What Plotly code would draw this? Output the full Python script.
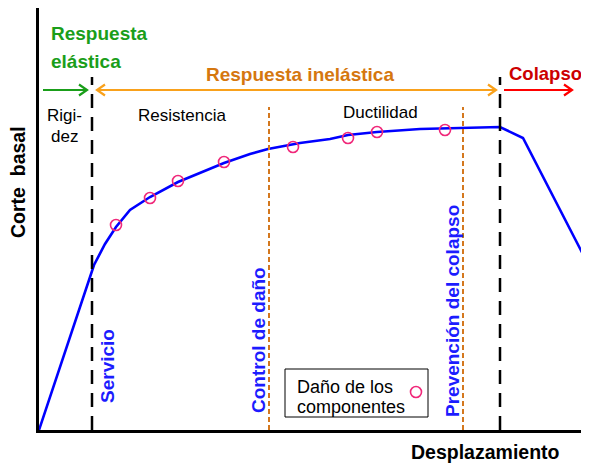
import plotly.graph_objects as go

# ---- data (arbitrary units: displacement, base shear) ----
desplazamiento = [0, 55, 66, 77, 91, 111, 139, 161, 185, 211, 229, 261, 291, 309, 338, 381, 406, 461, 484, 550]
corte_basal = [0, 165, 186, 203, 220, 233, 248, 257, 267, 276, 281, 287, 291, 295, 298, 301, 301.5, 303, 292, 164]

dano_x = [77, 111, 139, 185, 254, 309, 338, 406]
dano_y = [205, 232, 249, 268, 283, 292, 298, 300]

limites_x = [53, 230, 424, 461]          # Servicio, Control de daño, Prevención, límite colapso
limites_tipo = ["black", "orange", "orange", "black"]

X_RANGE = [0, 550]
Y_RANGE = [0, 422]

FONT = "Liberation Sans, Arial, sans-serif"
BLUE = "#0000ff"
TXT_BLUE = "#1c1cff"
GREEN = "#1a9e1a"
ORANGE_TXT = "#d5770f"
ORANGE_ARROW = "#f9a11b"
ORANGE_DASH = "#d4781e"
RED_ARROW = "#ff0000"
RED_TXT = "#cc0000"
PINK = "#f0287a"

fig = go.Figure()

fig.add_trace(go.Scatter(x=desplazamiento, y=corte_basal, mode="lines",
                         line=dict(color=BLUE, width=2.6), showlegend=False,
                         hoverinfo="skip"))
fig.add_trace(go.Scatter(x=dano_x, y=dano_y, mode="markers",
                         marker=dict(symbol="circle-open", size=11, color=PINK,
                                     line=dict(width=1.6, color=PINK)),
                         showlegend=False, hoverinfo="skip"))

shapes = []
# vertical limit lines
for xv, kind in zip(limites_x, limites_tipo):
    if kind == "black":
        shapes.append(dict(type="line", x0=xv, x1=xv, y0=0, y1=353, xref="x", yref="y",
                           line=dict(color="black", width=2.5, dash="14px,9px")))
    else:
        shapes.append(dict(type="line", x0=xv, x1=xv, y0=0, y1=323, xref="x", yref="y",
                           line=dict(color=ORANGE_DASH, width=2, dash="5px,3px")))

# arrows
AY = 340
def arrow(x0, x1, color, both=False):
    out = [dict(type="line", x0=x0, x1=x1, y0=AY, y1=AY, xref="x", yref="y",
                line=dict(color=color, width=2.2))]
    hl, hh = 8, 5.5
    out.append(dict(type="path", xref="x", yref="y",
                    path=f"M {x1-hl},{AY+hh} L {x1},{AY} L {x1-hl},{AY-hh}",
                    line=dict(color=color, width=2.2)))
    if both:
        out.append(dict(type="path", xref="x", yref="y",
                        path=f"M {x0+hl},{AY+hh} L {x0},{AY} L {x0+hl},{AY-hh}",
                        line=dict(color=color, width=2.2)))
    return out

shapes += arrow(4, 48, GREEN)
shapes += arrow(58, 457, ORANGE_ARROW, both=True)
shapes += arrow(465, 533, RED_ARROW)

# legend box
shapes.append(dict(type="rect", x0=246, x1=389, y0=13, y1=61, xref="x", yref="y",
                   line=dict(color="black", width=1), fillcolor="white"))
shapes.append(dict(type="circle", x0=371.5, x1=382.5, y0=32.5, y1=43.5, xref="x", yref="y",
                   line=dict(color=PINK, width=1.6)))

ann = []
def txt(t, x, y, size, color="black", bold=False, angle=0, xanchor="center",
        xref="x", yref="y"):
    ann.append(dict(text=(f"<b>{t}</b>" if bold else t), x=x, y=y, xref=xref, yref=yref,
                    showarrow=False, textangle=angle, xanchor=xanchor, yanchor="middle",
                    font=dict(family=FONT, size=size, color=color)))

txt("Respuesta", 10, 397, 19, GREEN, True, xanchor="left")
txt("elástica", 10, 369, 19, GREEN, True, xanchor="left")
txt("Respuesta inelástica", 261, 356, 19, ORANGE_TXT, True)
txt("Colapso", 506, 357, 18.5, RED_TXT, True)
txt("Rigi-", 25, 315, 17)
txt("dez", 25, 294, 17)
txt("Resistencia", 143, 315, 17)
txt("Ductilidad", 341, 318, 17)
txt("Servicio", 68, 64, 19, TXT_BLUE, True, angle=-90)
txt("Control de daño", 219, 90, 19, TXT_BLUE, True, angle=-90)
txt("Prevención del colapso", 413, 119, 19, TXT_BLUE, True, angle=-90)
txt("Daño de los", 256, 43, 18, xanchor="left")
txt("componentes", 256, 23, 18, xanchor="left")
txt("Corte  basal", -21 / 550, 248 / 422, 19.5, "black", True, angle=-90, xref="paper", yref="paper")
txt("Desplazamiento", 446 / 550, -22 / 422, 19.5, "black", True, xref="paper", yref="paper")

# the page body adds an 8px offset, so margins are shifted to compensate
fig.update_layout(
    width=589, height=467,
    margin=dict(l=31, r=8, t=0, b=45),
    paper_bgcolor="white", plot_bgcolor="white",
    shapes=shapes, annotations=ann,
    xaxis=dict(range=X_RANGE, showgrid=False, zeroline=False, showticklabels=False,
               ticks="", showline=True, linecolor="black", linewidth=2.5, fixedrange=True),
    yaxis=dict(range=Y_RANGE, showgrid=False, zeroline=False, showticklabels=False,
               ticks="", showline=True, linecolor="black", linewidth=2.5, fixedrange=True),
    font=dict(family=FONT),
    showlegend=False,
)

fig.write_html("out.html", config={"displayModeBar": False})
